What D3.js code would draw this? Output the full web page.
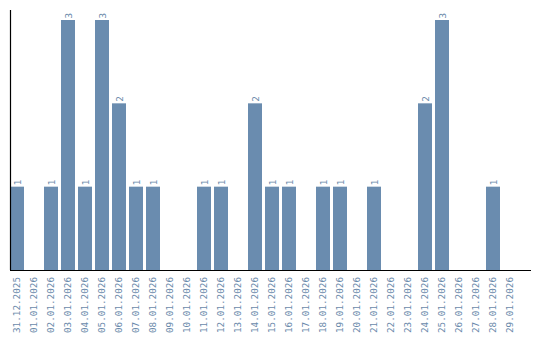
<!DOCTYPE html>
<html>
<head>
<meta charset="utf-8">
<script src="https://cdn.jsdelivr.net/npm/d3@7/dist/d3.min.js"></script>
<style>
html,body{margin:0;padding:0;background:#fff;}
svg{display:block;}
</style>
</head>
<body>
<svg id="chart" width="540" height="340"></svg>
<script>
const categories = ["31.12.2025","01.01.2026","02.01.2026","03.01.2026","04.01.2026","05.01.2026","06.01.2026","07.01.2026","08.01.2026","09.01.2026","10.01.2026","11.01.2026","12.01.2026","13.01.2026","14.01.2026","15.01.2026","16.01.2026","17.01.2026","18.01.2026","19.01.2026","20.01.2026","21.01.2026","22.01.2026","23.01.2026","24.01.2026","25.01.2026","26.01.2026","27.01.2026","28.01.2026","29.01.2026"];
const values = [1,0,1,3,1,3,2,1,1,0,0,1,1,0,2,1,1,0,1,1,0,1,0,0,2,3,0,0,1,0];

const svg = d3.select("#chart");
const color = "#6a8caf";
const textColor = "#6b8aab";
const font = "'DejaVu Sans Mono', monospace";

const x = d3.scaleBand()
  .domain(categories)
  .range([10, 520])
  .paddingInner(3/17)
  .paddingOuter(1.5/17)
  .align(0);

const y = d3.scaleLinear().domain([0, 3]).range([270, 20]);

const data = values.map((v,i)=>({c:categories[i], v})).filter(d=>d.v>0);

svg.append("g").selectAll("rect")
  .data(data)
  .join("rect")
  .attr("x", d=>x(d.c))
  .attr("width", x.bandwidth())
  .attr("y", d=>y(d.v))
  .attr("height", d=>y(0)-y(d.v))
  .attr("fill", color);

// value labels
svg.append("g").selectAll("text")
  .data(data)
  .join("text")
  .attr("transform", d=>`translate(${x(d.c)+x.bandwidth()/2+3.5},${y(d.v)-1.5}) rotate(-90)`)
  .attr("text-anchor","start")
  .attr("font-family", font)
  .attr("font-size", "9.3px")
  .attr("fill", textColor)
  .text(d=>d.v);

// x axis
const xAxis = svg.append("g").attr("transform","translate(0,270)")
  .call(d3.axisBottom(x).tickSize(0).tickPadding(0));
xAxis.select(".domain").remove();
xAxis.append("line").attr("x1",10).attr("x2",531).attr("y1",0.5).attr("y2",0.5)
  .attr("stroke","#000").attr("stroke-width",1.2);
xAxis.selectAll(".tick text")
  .attr("font-family", font)
  .attr("font-size","9.3px")
  .attr("fill", textColor)
  .attr("text-anchor","end")
  .attr("dy", null)
  .attr("transform","translate(3.3,7) rotate(-90)");

// y axis line
svg.append("line").attr("x1",10.5).attr("x2",10.5).attr("y1",10).attr("y2",270)
  .attr("stroke","#000").attr("stroke-width",1.2);
</script>
</body>
</html>
